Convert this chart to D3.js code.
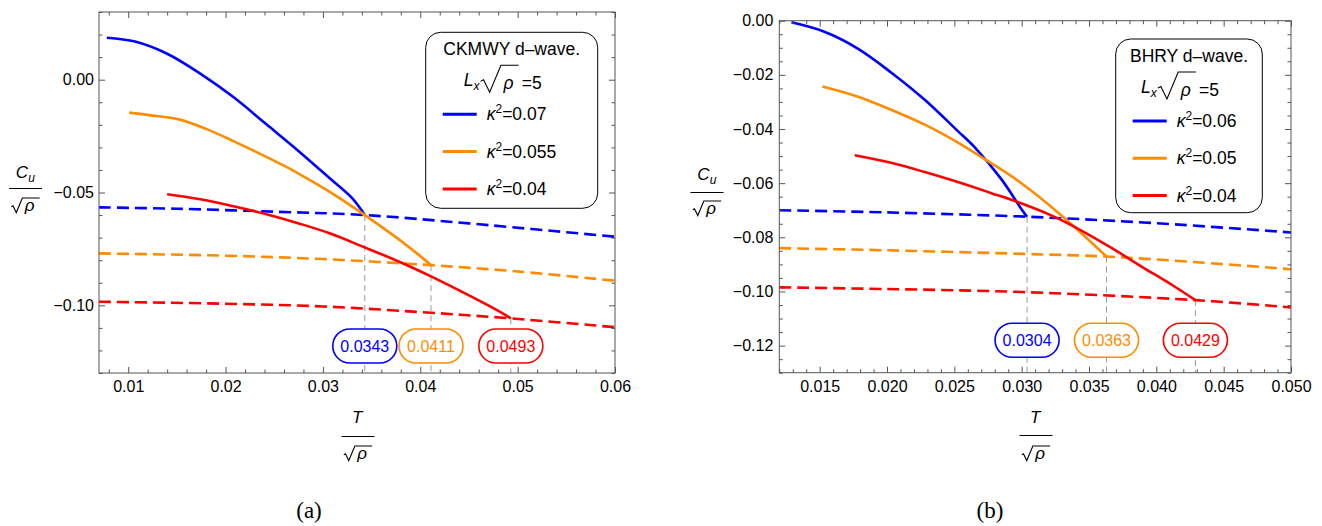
<!DOCTYPE html>
<html lang="en">
<head>
<meta charset="utf-8">
<title>Cu vs T, d-wave</title>
<script src="https://cdn.jsdelivr.net/npm/d3@7"></script>
<style>
  body{margin:0;background:#fff;}
  svg text{font-family:"Liberation Sans",Arial,sans-serif;fill:#000;}
  .tick text{font-size:16px;fill:#000;font-family:"Liberation Sans",Arial,sans-serif;}
  .tick line{stroke:#555;}
  .caption{font-family:"Liberation Serif",serif;font-size:23px;}
</style>
</head>
<body>
<script>
// ---------- panel (a) : CKMWY d-wave, Lx sqrt(rho) = 5 ----------
var aXTicks = [0.01, 0.02, 0.03, 0.04, 0.05, 0.06];
var aYTicks = [-0.10, -0.05, 0.00];
var aKappa = ["0.07", "0.055", "0.04"];

var aSolid07 = [[0.0078,0.0186],[0.0107,0.0169],[0.0140,0.0115],[0.0174,0.0027],[0.0208,-0.0077],
  [0.0242,-0.0198],[0.0276,-0.0320],[0.0307,-0.0437],[0.0330,-0.0525],[0.0343,-0.0600]];
var aSolid055 = [[0.0101,-0.0146],[0.0122,-0.0157],[0.0153,-0.0177],[0.0180,-0.0218],[0.0208,-0.0272],
  [0.0259,-0.0379],[0.0276,-0.0419],[0.0307,-0.0497],[0.0343,-0.0600],[0.0379,-0.0711],[0.0400,-0.0782],[0.0411,-0.0822]];
var aSolid04 = [[0.0140,-0.0508],[0.0174,-0.0530],[0.0208,-0.0561],[0.0242,-0.0596],[0.0276,-0.0638],
  [0.0307,-0.0681],[0.0341,-0.0740],[0.0379,-0.0808],[0.0411,-0.0872],[0.0449,-0.0954],[0.0482,-0.1029],[0.0493,-0.1058]];
var aDash07 = [[0.007,-0.0566],[0.015,-0.0572],[0.025,-0.0585],[0.0343,-0.0600],[0.045,-0.0637],[0.060,-0.0696]];
var aDash055 = [[0.007,-0.0770],[0.020,-0.0780],[0.030,-0.0795],[0.0411,-0.0822],[0.050,-0.0850],[0.060,-0.0891]];
var aDash04 = [[0.007,-0.0984],[0.020,-0.0993],[0.030,-0.1005],[0.040,-0.1030],[0.0493,-0.1058],[0.060,-0.1097]];

// ---------- panel (b) : BHRY d-wave, Lx sqrt(rho) = 5 ----------
var bXTicks = [0.015, 0.020, 0.025, 0.030, 0.035, 0.040, 0.045, 0.050];
var bYTicks = [-0.12, -0.10, -0.08, -0.06, -0.04, -0.02, 0.00];
var bKappa = ["0.06", "0.05", "0.04"];

var bSolid06 = [[0.0129,-0.0006],[0.0153,-0.0040],[0.0178,-0.0102],[0.0203,-0.0191],[0.0228,-0.0292],
  [0.0252,-0.0405],[0.0265,-0.0467],[0.0285,-0.0586],[0.0300,-0.0697],[0.0304,-0.0724]];
var bSolid05 = [[0.0152,-0.0243],[0.0178,-0.0280],[0.0203,-0.0329],[0.0228,-0.0384],[0.0252,-0.0448],
  [0.0277,-0.0525],[0.0300,-0.0601],[0.0330,-0.0721],[0.0363,-0.0871]];
var bSolid04 = [[0.0176,-0.0497],[0.0203,-0.0525],[0.0228,-0.0559],[0.0252,-0.0595],[0.0277,-0.0636],
  [0.0300,-0.0675],[0.0322,-0.0719],[0.0344,-0.0774],[0.0367,-0.0840],[0.0389,-0.0908],[0.0412,-0.0977],[0.0429,-0.1032]];
var bDash06 = [[0.012,-0.0700],[0.020,-0.0708],[0.0304,-0.0724],[0.040,-0.0748],[0.050,-0.0782]];
var bDash05 = [[0.012,-0.0840],[0.020,-0.0848],[0.030,-0.0861],[0.0363,-0.0871],[0.043,-0.0892],[0.050,-0.0918]];
var bDash04 = [[0.012,-0.0985],[0.020,-0.0991],[0.030,-0.1002],[0.0429,-0.1032],[0.050,-0.1059]];

var colors = ["#0000ff", "#ff8c00", "#ff0000"];

var svg = d3.select("body").append("svg").attr("width", 1322).attr("height", 526);

// radical sign over an italic rho, returns right end x
function sqrtRho(g, x0, yb, s, h) {
  var w = 0.85 * h;
  var rho = g.append("text").attr("x", x0 + w + 2.5).attr("y", yb)
    .style("font-size", s + "px").style("font-style", "italic").text("ρ");
  var xe = x0 + w + 2.5 + rho.node().getComputedTextLength() + 0.3 * s;
  g.append("path")
    .attr("d", "M" + x0 + "," + (yb - 0.33 * h) + "L" + (x0 + 0.15 * w) + "," + (yb - 0.4 * h) +
      "L" + (x0 + 0.45 * w) + "," + (yb + 0.12 * h) + "L" + (x0 + w) + "," + (yb - h) + "L" + xe + "," + (yb - h))
    .attr("fill", "none").attr("stroke", "#000").attr("stroke-width", 1.1);
  return xe;
}

function centerAt(g, cx) {
  var bb = g.node().getBBox();
  g.attr("transform", "translate(" + (cx - bb.x - bb.width / 2) + ",0)");
}

// numerator over sqrt(rho)
function fraction(cx, yNum, yLine, yDen, numText, sub) {
  var s = 17;
  var num = svg.append("g");
  var t = num.append("text").attr("x", 0).attr("y", yNum).style("font-size", s + "px").style("font-style", "italic");
  t.append("tspan").text(numText);
  if (sub) t.append("tspan").attr("dy", 4).style("font-size", "12px").text(sub);
  centerAt(num, cx);
  svg.append("line").attr("x1", cx - 16.5).attr("x2", cx + 16.5).attr("y1", yLine).attr("y2", yLine)
    .attr("stroke", "#000").attr("stroke-width", 1);
  var den = svg.append("g");
  sqrtRho(den, 0, yDen, s, 13);
  centerAt(den, cx);
}

function drawPanel(p) {
  var x = d3.scaleLinear().domain(p.xDomain).range([p.left, p.right]);
  var y = d3.scaleLinear().domain(p.yDomain).range([p.bottom, p.top]);
  var g = svg.append("g");

  g.append("clipPath").attr("id", "clip-" + p.id).append("rect")
    .attr("x", p.left).attr("y", p.top).attr("width", p.right - p.left).attr("height", p.bottom - p.top);
  var plot = g.append("g").attr("clip-path", "url(#clip-" + p.id + ")");

  var line = d3.line().x(function (d) { return x(d[0]); }).y(function (d) { return y(d[1]); })
    .curve(d3.curveCatmullRom.alpha(0.5));

  // gray guides from the kink down to the axis
  p.solid.forEach(function (s) {
    var end = s[s.length - 1];
    plot.append("line").attr("x1", x(end[0])).attr("x2", x(end[0])).attr("y1", y(end[1])).attr("y2", p.bottom)
      .attr("stroke", "#999").attr("stroke-width", 1).attr("stroke-dasharray", "6,4");
  });

  p.dashed.forEach(function (s, i) {
    plot.append("path").datum(s).attr("d", line).attr("fill", "none").attr("stroke", colors[i])
      .attr("stroke-width", 2.6).attr("stroke-dasharray", "12,6");
  });
  p.solid.forEach(function (s, i) {
    plot.append("path").datum(s).attr("d", line).attr("fill", "none").attr("stroke", colors[i])
      .attr("stroke-width", 2.6).attr("stroke-linejoin", "round");
  });

  // frame ticks (inward, all four sides)
  function minorOnly(major, minor) {
    return minor.filter(function (v) { return !major.some(function (m) { return Math.abs(m - v) < 1e-9; }); });
  }
  var xMin = minorOnly(p.xTicks, p.xMinor), yMin = minorOnly(p.yTicks, p.yMinor);
  var sides = [
    [d3.axisBottom, x, "translate(0," + p.bottom + ")", p.xTicks, xMin, d3.format(p.xFmt), 8],
    [d3.axisTop, x, "translate(0," + p.top + ")", p.xTicks, xMin, null, 0],
    [d3.axisLeft, y, "translate(" + p.left + ",0)", p.yTicks, yMin, d3.format(".2f"), p.yPad],
    [d3.axisRight, y, "translate(" + p.right + ",0)", p.yTicks, yMin, null, 0]
  ];
  sides.forEach(function (sd) {
    g.append("g").attr("transform", sd[2])
      .call(sd[0](sd[1]).tickValues(sd[4]).tickSize(-3.5).tickFormat(""))
      .call(function (a) { a.select(".domain").remove(); });
    g.append("g").attr("transform", sd[2])
      .call(sd[0](sd[1]).tickValues(sd[3]).tickSize(-6).tickPadding(sd[6]).tickFormat(sd[5] || ""))
      .call(function (a) { a.select(".domain").remove(); });
  });
  g.append("rect").attr("x", p.left).attr("y", p.top).attr("width", p.right - p.left).attr("height", p.bottom - p.top)
    .attr("fill", "none").attr("stroke", "#555").attr("stroke-width", 1);

  // critical temperature badges
  var f4 = d3.format(".4f");
  p.solid.forEach(function (s, i) {
    var cx = x(s[s.length - 1][0]), cy = y(p.badgeY);
    g.append("rect").attr("x", cx - 32).attr("y", cy - 17).attr("width", 64).attr("height", 34).attr("rx", 17)
      .attr("fill", "#fff").attr("stroke", colors[i]).attr("stroke-width", 1.6);
    g.append("text").attr("x", cx).attr("y", cy + 6).attr("text-anchor", "middle")
      .style("font-size", "16px").style("fill", colors[i]).text(f4(s[s.length - 1][0]));
  });

  // legend
  var L = p.legend;
  g.append("rect").attr("x", L.x).attr("y", L.y).attr("width", L.w).attr("height", L.h).attr("rx", 15)
    .attr("fill", "#fff").attr("stroke", "#000").attr("stroke-width", 1);
  g.append("text").attr("x", L.x + L.w / 2).attr("y", L.y + 23).attr("text-anchor", "middle")
    .style("font-size", "17.5px").text(L.title);

  var lrow = g.append("g");
  var lt = lrow.append("text").attr("x", 0).attr("y", L.y + 54).style("font-size", "17.5px").style("font-style", "italic");
  lt.append("tspan").text("L");
  lt.append("tspan").attr("dy", 4).style("font-size", "12px").text("x");
  var xr = sqrtRho(lrow, lt.node().getComputedTextLength() + 1, L.y + 57, 17.5, 24);
  lrow.append("text").attr("x", xr + 3).attr("y", L.y + 57).style("font-size", "17.5px").text("=5");
  centerAt(lrow, L.x + L.w / 2 - 9);

  p.kappa.forEach(function (k, i) {
    var yy = L.y + 82 + i * 37.3;
    g.append("line").attr("x1", L.x + 17).attr("x2", L.x + 51).attr("y1", yy).attr("y2", yy)
      .attr("stroke", colors[i]).attr("stroke-width", 3);
    var t = g.append("text").attr("x", L.x + 61).attr("y", yy + 6).style("font-size", "17.5px");
    t.append("tspan").style("font-style", "italic").text("κ");
    t.append("tspan").attr("dy", -7).style("font-size", "12px").text("2");
    t.append("tspan").attr("dy", 7).text("=" + k);
  });
}

drawPanel({
  id: "a", left: 99, right: 615, top: 12, bottom: 373,
  xDomain: [0.007, 0.06], yDomain: [-0.13, 0.03],
  xTicks: aXTicks, xMinor: d3.range(8, 61, 2).map(function (v) { return v / 1000; }),
  yTicks: aYTicks, yMinor: d3.range(-13, 4).map(function (v) { return v / 100; }),
  xFmt: ".2f", yPad: 5, badgeY: -0.118,
  solid: [aSolid07, aSolid055, aSolid04], dashed: [aDash07, aDash055, aDash04],
  kappa: aKappa,
  legend: { x: 425.7, y: 32.3, w: 172, h: 176, title: "CKMWY d–wave." }
});

drawPanel({
  id: "b", left: 779.3, right: 1291, top: 20.7, bottom: 372.7,
  xDomain: [0.012, 0.05], yDomain: [-0.13, 0],
  xTicks: bXTicks, xMinor: d3.range(12, 51).map(function (v) { return v / 1000; }),
  yTicks: bYTicks, yMinor: d3.range(-26, 1).map(function (v) { return v / 200; }),
  xFmt: ".3f", yPad: 6, badgeY: -0.118,
  solid: [bSolid06, bSolid05, bSolid04], dashed: [bDash06, bDash05, bDash04],
  kappa: bKappa,
  legend: { x: 1115.7, y: 39, w: 146.6, h: 173.7, title: "BHRY d–wave." }
});

// axis labels as fractions
fraction(25.5, 178, 188.5, 211, "C", "u");
fraction(707, 180, 192.5, 214, "C", "u");
fraction(358, 423, 436.5, 459, "T");
fraction(1036, 423, 435.5, 459, "T");

svg.append("text").attr("class", "caption").attr("x", 309).attr("y", 518).attr("text-anchor", "middle").text("(a)");
svg.append("text").attr("class", "caption").attr("x", 990).attr("y", 518).attr("text-anchor", "middle").text("(b)");
</script>
</body>
</html>
